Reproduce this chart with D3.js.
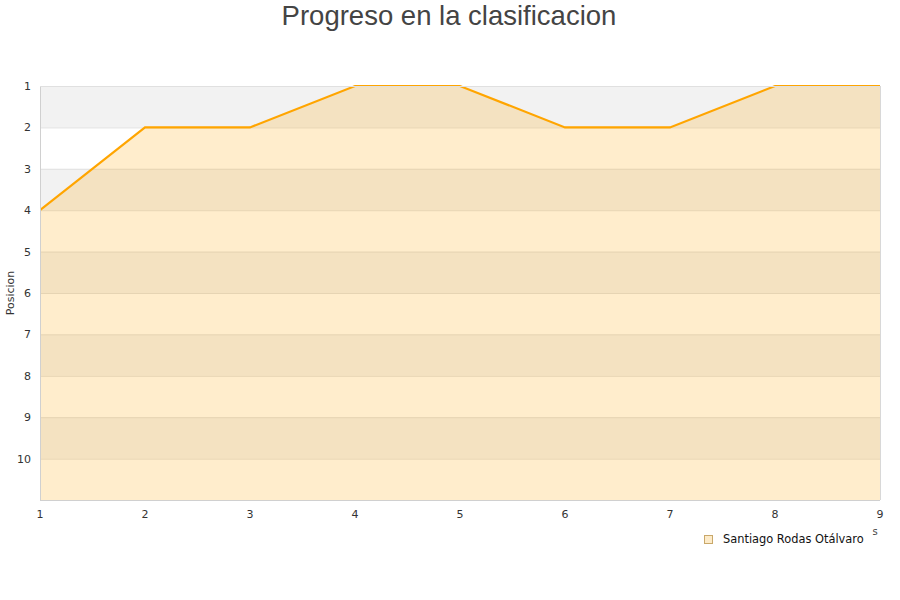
<!DOCTYPE html>
<html><head><meta charset="utf-8">
<script src="https://cdn.jsdelivr.net/npm/d3@7"></script>
<style>body{margin:0;background:#fff}</style>
</head><body>
<script>
const jornadas = [1,2,3,4,5,6,7,8,9];
const posiciones = [4,2,2,1,1,2,2,1,1];
const yTicks = [1,2,3,4,5,6,7,8,9,10];
const seriesName = "Santiago Rodas Otálvaro";
const titleText = "Progreso en la clasificacion";

const W=900,H=600;
const svg=d3.select("body").append("svg").attr("width",W).attr("height",H);
const x=d3.scaleLinear().domain([1,9]).range([40,880]);
const y=d3.scaleLinear().domain([1,11]).range([86,500]);

svg.append("text").attr("x",449).attr("y",25).attr("text-anchor","middle")
  .attr("font-family","Liberation Sans, Arial, sans-serif").attr("font-size",27.5).attr("fill","#444").text(titleText);

const bands=[1,3,5,7,9];
svg.selectAll("rect.band").data(bands).enter().append("rect")
  .attr("x",x(1)).attr("width",x(9)-x(1)).attr("y",d=>y(d)).attr("height",d=>y(d+1)-y(d)).attr("fill","#f2f2f2");
svg.selectAll("line.grid").data(d3.range(2,11)).enter().append("line")
  .attr("x1",x(1)).attr("x2",x(9)).attr("y1",d=>y(d)+0.5).attr("y2",d=>y(d)+0.5).attr("stroke","#e0e0e0");

const g=svg.append("g");
svg.append("clipPath").attr("id","c").append("rect").attr("x",x(1)).attr("y",y(1)-2).attr("width",x(9)-x(1)).attr("height",y(11)-y(1)+2);
const pts=jornadas.map((j,i)=>[j,posiciones[i]]);
g.append("path").datum(pts).attr("d",d3.area().x(d=>x(d[0])).y0(y(11)).y1(d=>y(d[1])))
  .attr("fill","#ffa500").attr("fill-opacity",0.2);
g.append("path").datum(pts).attr("d",d3.line().x(d=>x(d[0])).y(d=>y(d[1])))
  .attr("fill","none").attr("stroke","#ffa500").attr("stroke-width",2.2).attr("clip-path","url(#c)");

svg.append("line").attr("x1",x(1)+0.5).attr("x2",x(1)+0.5).attr("y1",y(1)).attr("y2",y(11)).attr("stroke","#d0d0d0");
svg.append("line").attr("x1",x(9)+0.5).attr("x2",x(9)+0.5).attr("y1",y(1)).attr("y2",y(11)).attr("stroke","#d8d8d8");
svg.append("line").attr("x1",x(1)).attr("x2",x(9)).attr("y1",y(11)+0.5).attr("y2",y(11)+0.5).attr("stroke","#d0d0d0");
svg.append("line").attr("x1",x(1)).attr("x2",x(9)).attr("y1",y(1)+0.5).attr("y2",y(1)+0.5).attr("stroke","#e0e0e0");

const font="DejaVu Sans, sans-serif";
svg.selectAll("text.yt").data(yTicks).enter().append("text")
  .attr("x",31).attr("y",d=>y(d)+4).attr("text-anchor","end").attr("font-family",font).attr("font-size",11).attr("fill","#333").text(d=>d);
svg.selectAll("text.xt").data(jornadas).enter().append("text")
  .attr("x",d=>x(d)).attr("y",518).attr("text-anchor","middle").attr("font-family",font).attr("font-size",11).attr("fill","#333").text(d=>d);
svg.append("text").attr("transform","translate(14,293) rotate(-90)").attr("text-anchor","middle")
  .attr("font-family",font).attr("font-size",11).attr("fill","#333").text("Posicion");
svg.append("text").attr("x",875).attr("y",535).attr("text-anchor","middle").attr("font-family",font).attr("font-size",10).attr("fill","#444").text("s");

svg.append("rect").attr("x",704.5).attr("y",535.5).attr("width",8).attr("height",8).attr("fill","#fdebc9").attr("stroke","#c9a86a");
svg.append("text").attr("x",723).attr("y",543).attr("font-family",font).attr("font-size",11.4).attr("fill","#111").text(seriesName);
</script>
</body></html>
